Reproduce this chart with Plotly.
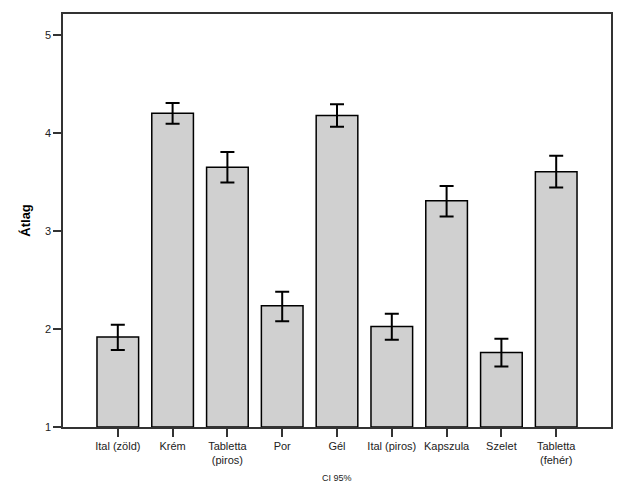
import plotly.graph_objects as go

categories = ["Ital (zöld)", "Krém", "Tabletta<br>(piros)", "Por", "Gél",
              "Ital (piros)", "Kapszula", "Szelet", "Tabletta<br>(fehér)"]
means = [1.918, 4.20, 3.649, 2.237, 4.178, 2.026, 3.307, 1.759, 3.605]
ci_upper = [2.044, 4.306, 3.805, 2.379, 4.293, 2.155, 3.459, 1.901, 3.767]
ci_lower = [1.786, 4.093, 3.493, 2.080, 4.062, 1.891, 3.147, 1.617, 3.442]

err_plus = [u - m for u, m in zip(ci_upper, means)]
err_minus = [m - l for m, l in zip(means, ci_lower)]

FONT = "Liberation Sans, Arial, sans-serif"

fig = go.Figure()
fig.add_trace(go.Bar(
    x=list(range(len(categories))),
    y=[m - 1 for m in means],
    base=1,
    width=0.76,
    marker=dict(color="#d0d0d0", line=dict(color="black", width=1.5)),
    error_y=dict(type="data", symmetric=False,
                 array=err_plus, arrayminus=err_minus,
                 color="black", thickness=2, width=7),
    hoverinfo="skip",
))

fig.update_layout(
    width=625, height=500,
    margin=dict(l=63, r=12, t=12, b=73),
    paper_bgcolor="white", plot_bgcolor="white",
    showlegend=False,
    font=dict(family=FONT, size=11, color="#222"),
    xaxis=dict(
        range=[-1, 9],
        tickmode="array",
        tickvals=list(range(len(categories))),
        ticktext=categories,
        ticks="outside", ticklen=8, tickwidth=1.5, tickcolor="#333",
        showline=True, linecolor="#333", linewidth=1.5, mirror=True,
        showgrid=False, zeroline=False,
        tickfont=dict(size=11, family=FONT, color="#222"),
        tickangle=0,
    ),
    yaxis=dict(
        range=[1, 5.213],
        tickmode="array",
        tickvals=[1, 2, 3, 4, 5],
        ticktext=["1", "2", "3", "4", "5"],
        ticks="outside", ticklen=8, tickwidth=1.5, tickcolor="#333",
        showline=True, linecolor="#333", linewidth=1.5, mirror=True,
        showgrid=False, zeroline=False,
        tickfont=dict(size=11, family=FONT, color="#222"),
    ),
    annotations=[
        dict(text="<b>Átlag</b>", xref="paper", yref="paper",
             x=-0.069, y=0.5, textangle=-90, showarrow=False,
             font=dict(size=13, family=FONT, color="black"),
             xanchor="center", yanchor="middle"),
        dict(text="CI 95%", xref="paper", yref="paper",
             x=0.5, y=-0.123, showarrow=False,
             font=dict(size=9, family=FONT, color="#222"),
             xanchor="center", yanchor="middle"),
    ],
)

fig.write_html("out.html")
